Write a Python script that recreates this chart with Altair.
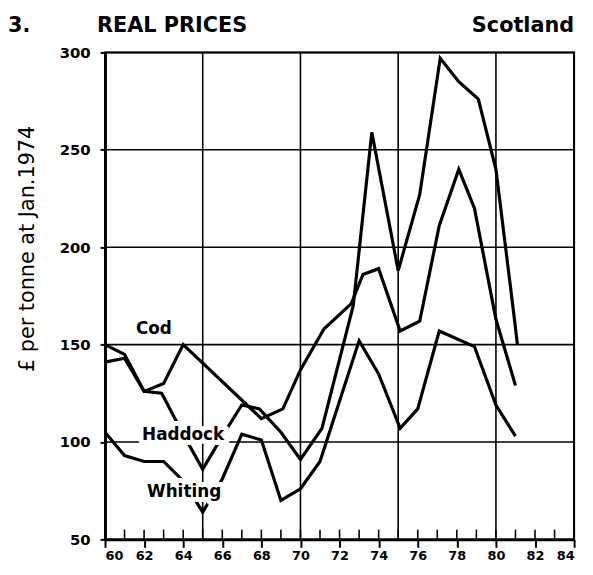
import altair as alt
import pandas as pd

# ---- data ----
cod_years = [60, 61, 62, 63, 64, 68, 69.1, 70, 71.2, 72.6, 73.2, 74, 75.1, 76.1, 77.1, 78.1, 78.9, 80, 81]
cod_vals = [141, 143, 126, 130, 150, 112, 117, 137, 158, 171, 186, 189, 157, 162, 211, 240, 220, 163, 129]

haddock_years = [60, 61, 62, 62.9, 64, 65, 66, 67, 67.9, 69, 70, 71.1, 72.7, 73.65, 75, 76.1, 77.15, 78.1, 79.1, 80, 80.9, 81.1]
haddock_vals = [150, 145, 126, 125, 104, 86, 103, 119, 117, 105, 91, 107, 170, 259, 188, 227, 297, 285, 276, 240, 167, 150]

whiting_years = [60, 61, 62, 63, 64, 65, 66, 67, 68, 69, 70, 71, 73, 74, 75.1, 76, 77.1, 78.9, 80, 81]
whiting_vals = [105, 93, 90, 90, 80, 64, 81, 104, 101, 70, 76, 90, 152, 135, 107, 117, 157, 149, 119, 103]

label_names = ["Cod", "Haddock", "Whiting"]
label_years = [62.5, 64.0, 64.05]
label_vals = [158, 103.5, 74.5]

x_ticks = [60, 62, 64, 66, 68, 70, 72, 74, 76, 78, 80, 82, 84]
x_minor = list(range(60, 85))
y_ticks = [50, 100, 150, 200, 250, 300]
h_grid = [100, 150, 200, 250, 300]
v_grid = [65, 70, 75, 80, 84]

rows = []
for name, xs_, vs_ in [("Cod", cod_years, cod_vals),
                       ("Haddock", haddock_years, haddock_vals),
                       ("Whiting", whiting_years, whiting_vals)]:
    for i, (x, v) in enumerate(zip(xs_, vs_)):
        rows.append({"fish": name, "year": x, "value": v, "order": i})
df = pd.DataFrame(rows)

FONT = "DejaVu Sans"
xs = alt.Scale(domain=[60, 84], nice=False, zero=False)
ys = alt.Scale(domain=[50, 300], nice=False, zero=False)

X_AX = alt.Axis(values=x_ticks, format="d", title=None, grid=False,
                tickSize=8, tickWidth=2, tickColor="black",
                domainColor="black", domainWidth=3,
                labelFont=FONT, labelFontWeight="bold",
                labelFontSize=13, labelColor="black", labelPadding=2)
Y_AX = alt.Axis(values=y_ticks, format="d",
                title="£ per tonne at Jan.1974", grid=False,
                tickSize=5, tickWidth=2, tickColor="black",
                domainColor="black", domainWidth=3,
                labelFont=FONT, labelFontWeight="bold",
                labelFontSize=15, labelColor="black", labelPadding=10,
                titleFont=FONT, titleFontSize=21,
                titleFontWeight="normal", titleColor="black",
                titleAngle=270, titleX=-78, titleY=198,
                titleAlign="center", titleBaseline="middle")

def X(field):
    return alt.X(field, scale=xs, axis=X_AX, title=None)

def Y(field):
    return alt.Y(field, scale=ys, axis=Y_AX, title="£ per tonne at Jan.1974")

hgrid = alt.Chart(pd.DataFrame({"value": h_grid})).mark_rule(
    color="black", strokeWidth=1.6
).encode(y=Y("value:Q"))

vgrid = alt.Chart(pd.DataFrame({"year": v_grid})).mark_rule(
    color="black", strokeWidth=1.6
).encode(x=X("year:Q"))

lines = alt.Chart(df).mark_line(
    color="black", strokeWidth=3.2, strokeJoin="miter", strokeMiterLimit=3
).encode(
    x=X("year:Q"),
    y=Y("value:Q"),
    detail="fish:N",
    order="order:Q",
)

minor = alt.Chart(pd.DataFrame({"year": x_minor, "value": 50, "v1": 55})).mark_rule(
    color="black", strokeWidth=1.6
).encode(
    x=X("year:Q"),
    y=Y("value:Q"),
    y2="v1:Q",
)

lab_df = pd.DataFrame({"name": label_names, "year": label_years, "value": label_vals})
halo = alt.Chart(lab_df).mark_text(
    font=FONT, fontWeight="bold", fontSize=17, fill="white", stroke="white",
    strokeWidth=10, strokeJoin="round"
).encode(x=X("year:Q"), y=Y("value:Q"), text="name:N")
labels = alt.Chart(lab_df).mark_text(
    font=FONT, fontWeight="bold", fontSize=17, color="black"
).encode(x=X("year:Q"), y=Y("value:Q"), text="name:N")

def title_text(txt, x, align):
    return alt.Chart(pd.DataFrame({"t": [txt]})).mark_text(
        font=FONT, fontWeight="bold", fontSize=21, color="black",
        align=align, baseline="alphabetic"
    ).encode(x=alt.value(x), y=alt.value(-21), text="t:N")

t1 = title_text("3.", -98, "left")
t2 = title_text("REAL PRICES", -8, "left")
t3 = title_text("Scotland", 474, "right")

chart = alt.layer(hgrid, vgrid, lines, minor, halo, labels, t1, t2, t3).properties(
    width=474, height=492,
    autosize=alt.AutoSizeParams(type="none"),
    padding={"left": 98, "top": 42, "right": 11, "bottom": 25},
).configure_view(stroke="black", strokeWidth=2)

chart.save("out.html", embed_options={"renderer": "svg", "actions": False})
